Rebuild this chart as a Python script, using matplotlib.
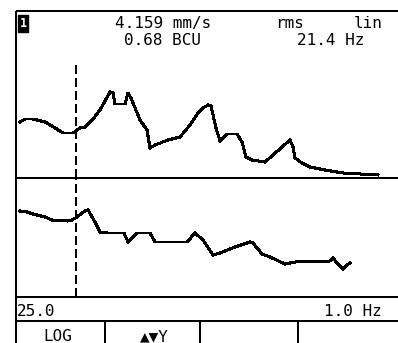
import matplotlib
matplotlib.use('Agg')
import matplotlib.pyplot as plt

# --- Spectrum screen (vibration analyser) ---

# upper trace: amplitude per bin
amp_bins = [4, 9, 17, 29, 36, 47, 57, 61, 64, 69, 77, 84, 94, 97, 99, 109, 112, 115,
            124, 131, 134, 139, 152, 164, 174, 182, 187, 192, 195, 200, 204, 209, 211,
            221, 226, 230, 236, 249, 274, 277, 279, 286, 294, 309, 327, 362]
amp_vals = [56, 59, 59, 56, 52, 45, 45, 48, 50, 51, 59, 68, 86, 85, 74, 74, 85, 80,
            58, 48, 30, 33, 38, 41, 53, 65, 70, 73, 72, 50, 37, 42, 44,
            44, 36, 21, 18, 16, 38, 31, 20, 15, 11, 8, 5, 3]

# lower trace: phase per bin
phase_bins = [4, 11, 17, 29, 36, 51, 56, 61, 69, 72, 79, 84, 91, 108, 112, 121, 134, 139,
              171, 179, 187, 197, 204, 219, 234, 237, 246, 254, 269, 279, 314, 317, 321,
              327, 331, 334]
phase_vals = [86, 85, 83, 80, 77, 76, 77, 80, 86, 87, 75, 65, 64, 64, 55, 64, 64, 55,
              55, 64, 57, 42, 44, 50, 55, 54, 43, 40, 33, 35, 36, 39, 34,
              28, 32, 34]

cursor_bin = 60
n_bins = 382

header_top = ['4.159 mm/s', 'rms', 'lin']
header_bottom = ['0.68 BCU', '21.4 Hz']
range_labels = ['25.0', '1.0 Hz']
softkeys = ['LOG', '\u25b2\u25bcY', '', '']

W, H = 398, 343
fig = plt.figure(figsize=(W / 100, H / 100), dpi=100)

FONT = ['DejaVu Sans Mono', 'DejaVu Sans']
LW = 1.44  # ~2 px


def fy(py):
    return 1 - py / H


# plot panels (pixel rows 11-178 and 178-297)
ax_amp = fig.add_axes([16 / W, fy(178), n_bins / W, (178 - 11) / H])
ax_ph = fig.add_axes([16 / W, fy(297), n_bins / W, (297 - 178) / H])
for a in (ax_amp, ax_ph):
    a.set_xlim(0, n_bins)
    a.axis('off')
ax_amp.set_ylim(0, 167)
ax_ph.set_ylim(0, 119)

ax_amp.plot(amp_bins, amp_vals, color='black', lw=LW, antialiased=False, solid_joinstyle='miter')
ax_ph.plot(phase_bins, phase_vals, color='black', lw=LW, antialiased=False, solid_joinstyle='miter')

dash = (0, (4.5, 2.5))
ax_amp.axvline(cursor_bin, ymin=0, ymax=(178 - 63) / 167, color='black', lw=LW, ls=dash,
               antialiased=False)
ax_ph.axvline(cursor_bin, color='black', lw=LW, ls=dash, antialiased=False)

# overlay in pixel coords for frame and text
ov = fig.add_axes([0, 0, 1, 1], zorder=-1)
ov.set_xlim(0, W)
ov.set_ylim(H, 0)
ov.axis('off')

frame = dict(color='black', lw=LW, antialiased=False, solid_capstyle='butt')
ov.plot([16, 16], [11, H], **frame)
for y in (11, 178, 297, 321):
    ov.plot([16, W], [y, y], **frame)
for x in (105, 200, 298):
    ov.plot([x, x], [321, H], **frame)

# channel badge
ov.text(23, 23.5, '1', ha='center', va='center', fontsize=8.5, fontweight='bold',
        color='white', family=FONT,
        bbox=dict(boxstyle='square,pad=0.15', fc='black', ec='black'))

fs = 11.5
txt = dict(va='baseline', fontsize=fs, family=FONT)
ov.text(163, 28, header_top[0], ha='center', **txt)
ov.text(290, 28, header_top[1], ha='center', **txt)
ov.text(368, 28, header_top[2], ha='center', **txt)
ov.text(163, 45, header_bottom[0], ha='center', **txt)
ov.text(331, 45, header_bottom[1], ha='center', **txt)

ov.text(17, 316, range_labels[0], ha='left', **txt)
ov.text(382, 316, range_labels[1], ha='right', **txt)

# soft keys sit at the bottom edge, partly cut off as on the device screen
key_centers = [58, 154, 249, 348]
for cx, lab in zip(key_centers, softkeys):
    if lab:
        ov.text(cx, 341, lab, ha='center', **txt)

fig.savefig('out.png', dpi=100)
